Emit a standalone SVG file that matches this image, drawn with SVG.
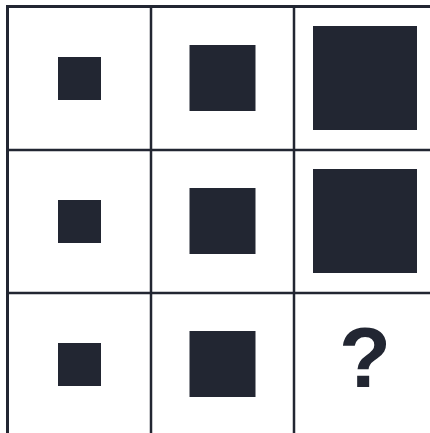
<svg xmlns="http://www.w3.org/2000/svg" width="430" height="433" viewBox="0 0 430 433">
  <style>
    .sq { fill: #222632; }
    .line { stroke: #222632; fill: none; }
    .outer { stroke-width: 3; }
    .inner { stroke-width: 2.5; }
    .q { font-family: "Liberation Sans", Arial, sans-serif; font-weight: bold; font-size: 85px; fill: #222632; text-anchor: middle; }
  </style>
  <rect x="0" y="0" width="430" height="433" fill="#ffffff"/>
  <g id="connectors">
    <line class="line outer" x1="7.5" y1="6.5" x2="7.5" y2="433"/>
    <line class="line outer" x1="6" y1="6.5" x2="430" y2="6.5"/>
    <line class="line inner" x1="151" y1="6.5" x2="151" y2="433"/>
    <line class="line inner" x1="294" y1="6.5" x2="294" y2="433"/>
    <line class="line inner" x1="7.5" y1="150" x2="430" y2="150"/>
    <line class="line inner" x1="7.5" y1="293" x2="430" y2="293"/>
  </g>
  <g id="r1c1"><rect class="sq" x="58" y="57" width="43" height="43"/></g>
  <g id="r1c2"><rect class="sq" x="189.5" y="45" width="66" height="66"/></g>
  <g id="r1c3"><rect class="sq" x="313" y="26" width="104" height="104"/></g>
  <g id="r2c1"><rect class="sq" x="58" y="200" width="43" height="43"/></g>
  <g id="r2c2"><rect class="sq" x="189.5" y="188" width="66" height="66"/></g>
  <g id="r2c3"><rect class="sq" x="313" y="169" width="104" height="104"/></g>
  <g id="r3c1"><rect class="sq" x="58" y="343" width="43" height="43"/></g>
  <g id="r3c2"><rect class="sq" x="189.5" y="331" width="66" height="66"/></g>
  <g id="r3c3"><text class="q" x="365" y="387">?</text></g>
</svg>
